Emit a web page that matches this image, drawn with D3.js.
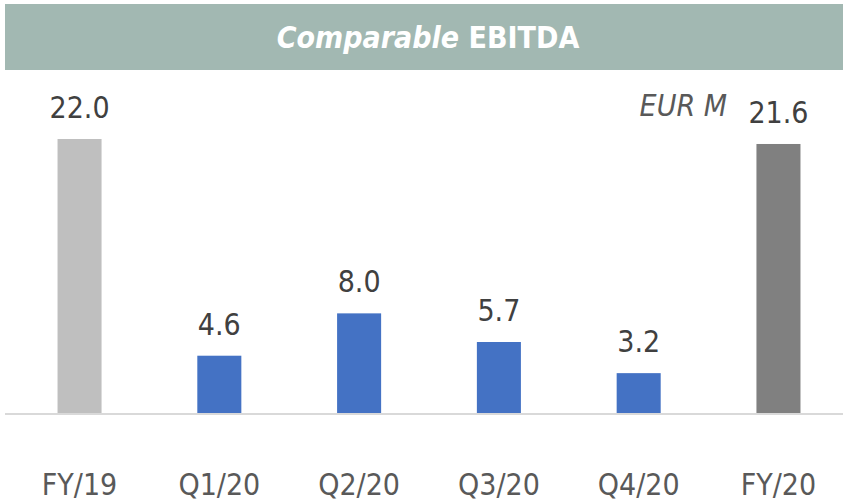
<!DOCTYPE html>
<html><head><meta charset="utf-8">
<script src="https://cdn.jsdelivr.net/npm/d3@7"></script>
<style>body{margin:0;background:#fff}</style>
</head><body><svg id="c" width="843" height="503"></svg>
<script>
const categories = ["FY/19","Q1/20","Q2/20","Q3/20","Q4/20","FY/20"];
const values = [22.0, 4.6, 8.0, 5.7, 3.2, 21.6];
const colors = ["#bfbfbf","#4472c4","#4472c4","#4472c4","#4472c4","#808080"];
const font = "'DejaVu Sans Condensed','Open Sans',sans-serif";

const svg = d3.select("#c");
const W = 843, H = 503;
const x = d3.scaleBand().domain(categories).range([10, 848]).paddingInner(0.685).paddingOuter(0.34);
const y = d3.scaleLinear().domain([0, 22]).range([413, 139]);

// header
svg.append("rect").attr("x",5).attr("y",4).attr("width",W-5).attr("height",66).attr("fill","#a2b8b2");
const t = svg.append("text").attr("x",428).attr("y",48).attr("text-anchor","middle")
  .attr("fill","#fff").attr("font-family",font).attr("font-size",30).attr("font-weight","bold");
t.append("tspan").attr("font-style","italic").text("Comparable");
t.append("tspan").text(" EBITDA");

// bars
svg.selectAll("rect.bar").data(values).join("rect").attr("class","bar")
  .attr("x",(d,i)=>x(categories[i])).attr("width",x.bandwidth())
  .attr("y",d=>y(d)).attr("height",d=>y(0)-y(d)).attr("fill",(d,i)=>colors[i]);

// baseline
svg.append("line").attr("x1",5).attr("x2",W).attr("y1",y(0)+1).attr("y2",y(0)+1)
  .attr("stroke","#d9d9d9").attr("stroke-width",2);

// value labels
svg.selectAll("text.val").data(values).join("text").attr("class","val")
  .attr("x",(d,i)=>x(categories[i])+x.bandwidth()/2).attr("y",d=>y(d)-21)
  .attr("text-anchor","middle").attr("font-family",font).attr("font-size",30).attr("fill","#404040")
  .text(d=>d.toFixed(1));

// category axis
const ax = svg.append("g").attr("transform",`translate(0,${y(0)})`)
  .call(d3.axisBottom(x).tickSize(0).tickPadding(61));
ax.select(".domain").remove();
ax.selectAll("text").attr("font-family",font).attr("font-size",30).attr("fill","#595959");

// unit
svg.append("text").attr("x",727).attr("y",116).attr("text-anchor","end")
  .attr("font-family",font).attr("font-size",30).attr("font-style","italic").attr("fill","#595959").text("EUR M");
</script></body></html>
